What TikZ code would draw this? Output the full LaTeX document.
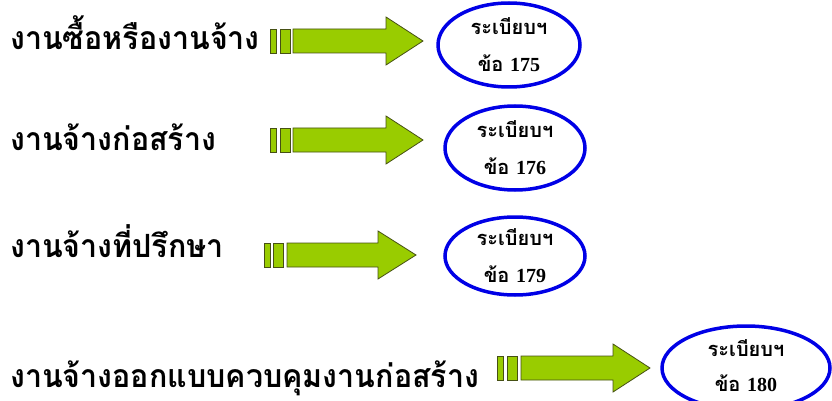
\documentclass[tikz,border=0pt]{standalone}
\usepackage{fontspec}
\usetikzlibrary{shapes.geometric}
\newfontfamily\thaifont[Script=Thai]{Loma}
\newfontfamily\thaitall[Script=Thai,FakeStretch=0.95]{Loma}
\newfontfamily\numfont{Liberation Serif}
\definecolor{arrgreen}{RGB}{153,204,0}
\definecolor{arredge}{RGB}{70,80,20}
\definecolor{ellblue}{RGB}{0,0,230}
\newcommand{\blockarr}[7]{% bar1x, bar2x, shaft start, shaft end, tip, yc, name
  \fill[arrgreen,draw=arredge,line width=0.8pt] (#1,#6-12) rectangle ++(6,24);
  \fill[arrgreen,draw=arredge,line width=0.8pt] (#2,#6-12) rectangle ++(10,24);
  \fill[arrgreen,draw=arredge,line width=0.8pt] (#3,#6-12) -- (#4,#6-12) -- (#4,#6-24) -- (#5,#6) -- (#4,#6+24) -- (#4,#6+12) -- (#3,#6+12) -- cycle;
  \coordinate (#7) at (#5,#6);
}
\tikzset{
  lbl/.style={anchor=base west,inner sep=0pt,font=\thaitall\bfseries\fontsize{32}{36}\selectfont},
  reg/.style={ellipse,draw=ellblue,line width=3.5pt,inner sep=0pt,align=center,
    font=\thaifont\bfseries\fontsize{20}{37}\selectfont},
}
\begin{document}
\begin{tikzpicture}[x=1pt,y=-1pt]
\useasboundingbox (0,0) rectangle (832,401);
% row 1
\node[lbl] (t1) at (10,50) {งานซื้อหรืองานจ้าง};
\blockarr{270}{280}{293}{386}{423}{41}{a1}
\node[reg,minimum width=142pt,minimum height=84pt] (e1) at (509,45) {ระเบียบฯ\\ข้อ {\numfont\bfseries 175}};
% row 2
\node[lbl] (t2) at (10,150) {งานจ้างก่อสร้าง};
\blockarr{270}{280}{293}{386}{423}{140}{a2}
\node[reg,minimum width=140pt,minimum height=84pt] (e2) at (515,148) {ระเบียบฯ\\ข้อ {\numfont\bfseries 176}};
% row 3
\node[lbl] (t3) at (10,257) {งานจ้างที่ปรึกษา};
\blockarr{264}{273}{287}{378}{416}{255}{a3}
\node[reg,minimum width=140pt,minimum height=78pt] (e3) at (515,256) {ระเบียบฯ\\ข้อ {\numfont\bfseries 179}};
% row 4
\node[lbl] (t4) at (10,387) {งานจ้างออกแบบควบคุมงานก่อสร้าง};
\blockarr{497}{507}{521}{613}{650}{368}{a4}
\node[reg,minimum width=168pt,minimum height=84pt] (e4) at (746,368) {};
\node[font=\thaifont\bfseries\fontsize{20}{35}\selectfont,align=center,inner sep=0pt] (e4t) at (746,366) {ระเบียบฯ\\ข้อ {\numfont\bfseries 180}};
\end{tikzpicture}
\end{document}
